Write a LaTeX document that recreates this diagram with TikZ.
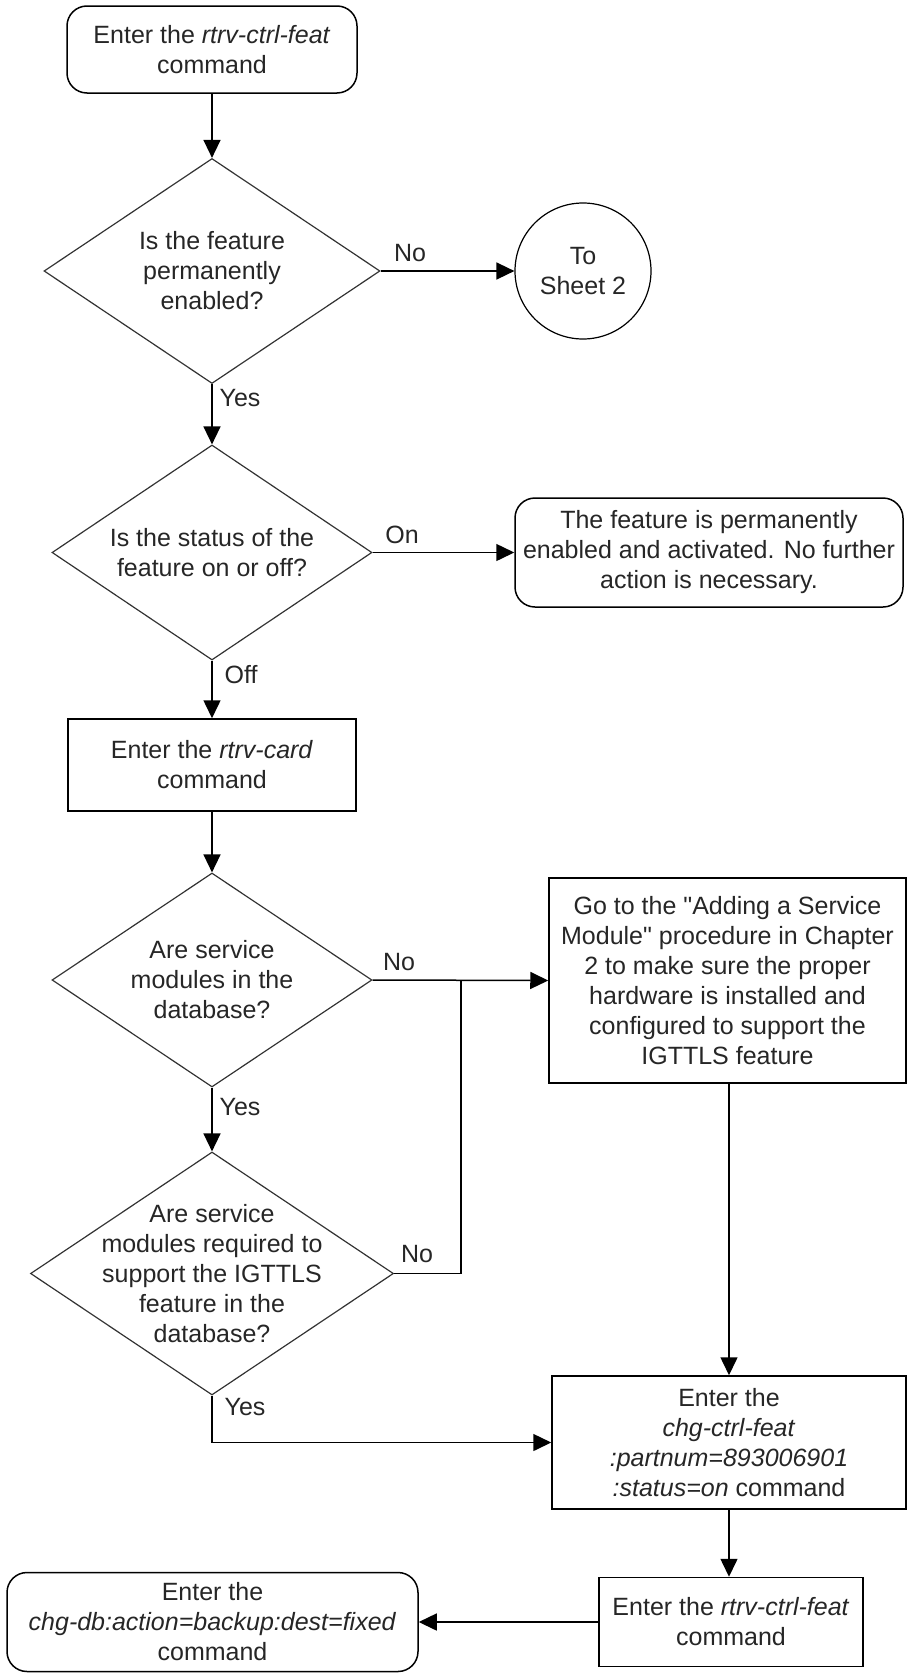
\documentclass[tikz,border=0pt]{standalone}
\usepackage{fontspec}
\setmainfont{Liberation Sans}
\newfontfamily\qfont{Liberation Sans}
\newcommand{\sq}{{\qfont\symbol{34}}}
\usetikzlibrary{arrows.meta,shapes.geometric,calc}
\tikzset{
  base/.style={font=\fontsize{25}{30}\selectfont, text=black!85, align=center, inner sep=0pt},
  rbox/.style={base, draw, line width=1.5pt, rounded corners=20pt},
  sbox/.style={base, draw, line width=1.5pt},
  dia/.style={draw=black!80, line width=1.2pt, diamond, inner sep=0pt},
  conn/.style={circle, draw, line width=1.2pt, inner sep=0pt, base},
  txt/.style={base},
  lbl/.style={base},
  arr/.style={line width=1.5pt, -{Triangle[length=18pt,width=17pt]}},
  ln/.style={line width=1.5pt},
}
\begin{document}
\begin{tikzpicture}[x=1pt,y=-1pt]
\useasboundingbox (0,0) rectangle (907,1673);

% nodes
\node[rbox, minimum width=290pt, minimum height=87pt] (start) at (212,49.5)
  {Enter the \textit{rtrv-ctrl-feat}\\command};

\node[dia, minimum width=336pt, minimum height=225pt] (d1) at (212,271) {};
\node[txt] (d1t) at (d1) {Is the feature\\permanently\\enabled?};

\node[conn, minimum size=136pt] (sheet2) at (583,271) {To\\Sheet 2};

\node[dia, minimum width=320pt, minimum height=215pt] (d2) at (212,552.5) {};
\node[txt] (d2t) at (d2) {Is the status of the\\feature on or off?};

\node[rbox, minimum width=388pt, minimum height=109pt] (onbox) at (709,552.5)
  {The feature is permanently\\enabled and activated. No further\\action is necessary.};

\node[sbox, minimum width=288pt, minimum height=92pt] (card) at (212,765)
  {Enter the \textit{rtrv-card}\\command};

\node[dia, minimum width=320pt, minimum height=214pt] (d3) at (212,980) {};
\node[txt] (d3t) at (d3) {Are service\\modules in the\\database?};

\node[sbox, minimum width=357pt, minimum height=205pt] (gobox) at (727.5,980.5)
  {Go to the \sq Adding a Service\\Module\sq{} procedure in Chapter\\2 to make sure the proper\\hardware is installed and\\configured to support the\\IGTTLS feature};

\node[dia, minimum width=363pt, minimum height=243pt] (d4) at (212,1273.5) {};
\node[txt] (d4t) at (d4) {Are service\\modules required to\\support the IGTTLS\\feature in the\\database?};

\node[sbox, minimum width=354pt, minimum height=133pt] (chg) at (729,1442.5)
  {Enter the\\\textit{chg-ctrl-feat}\\\textit{:partnum=893006901}\\\textit{:status=on} command};

\node[sbox, minimum width=264pt, minimum height=89pt] (rtrv2) at (731,1622)
  {Enter the \textit{rtrv-ctrl-feat}\\command};

\node[rbox, minimum width=411pt, minimum height=99pt] (backup) at (212.5,1622)
  {Enter the\\\textit{chg-db:action=backup:dest=fixed}\\command};

\coordinate (j) at (461,980);
\coordinate (j2) at (461,1273.5);

% connectors
\draw[arr] (start.south) -- (d1.north);
\draw[arr] (d1.east) -- (sheet2.west);
\draw[arr] (d1.south) -- (d2.north);
\draw[arr] (d2.east) -- (onbox.west);
\draw[arr] (d2.south) -- (card.north);
\draw[arr] (card.south) -- (d3.north);
\draw[arr] (d3.east) -- (gobox.west);
\draw[ln] (d4.east) -- (j2) -- (j);
\draw[arr] (d3.south) -- (d4.north);
\draw[arr] (gobox.south -| chg.north) -- (chg.north);
\draw[arr] (d4.south) |- (chg.west);
\draw[arr] (chg.south) -- (chg.south |- rtrv2.north);
\draw[arr] (rtrv2.west) -- (backup.east);

% labels
\node[lbl] (l1) at (410,253) {No};
\node[lbl] (l2) at (240,398) {Yes};
\node[lbl] (l3) at (402,535) {On};
\node[lbl] (l4) at (241,675) {Off};
\node[lbl] (l5) at (399,962) {No};
\node[lbl] (l6) at (240,1107) {Yes};
\node[lbl] (l7) at (417,1254) {No};
\node[lbl] (l8) at (245,1407) {Yes};
\end{tikzpicture}
\end{document}
